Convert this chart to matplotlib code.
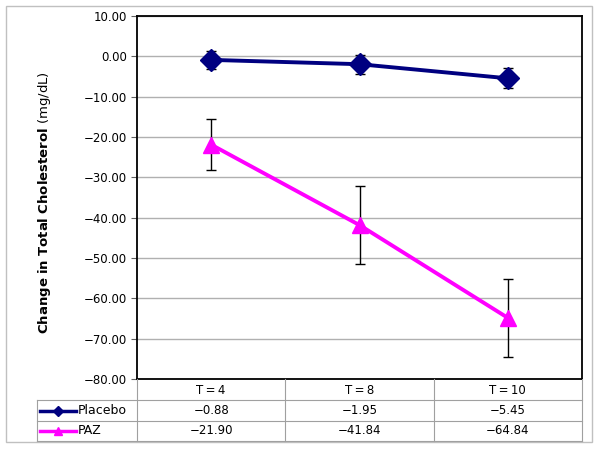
import matplotlib
matplotlib.use("Agg")
import matplotlib.pyplot as plt
from matplotlib.lines import Line2D
from matplotlib.patches import Rectangle

categories = ["T=4", "T=8", "T=10"]
placebo = [-0.88, -1.95, -5.45]
placebo_err = [2.3, 2.35, 2.5]
paz = [-21.90, -41.84, -64.84]
paz_err = [6.3, 9.6, 9.7]
series_names = ["Placebo", "PAZ"]

W, H = 600, 450
plt.rcParams['font.family'] = ['DejaVu Sans']
plt.rcParams['mathtext.fontset'] = 'dejavusans'
fig = plt.figure(figsize=(6, 4.5), dpi=100)

def fx(px):
    return px / W
def fy(py):
    return 1 - py / H

def fmt(v):
    return f"{v:.2f}".replace("-", "\u2212")

ax_l, ax_r, ax_t, ax_b = 137, 582, 16, 379
ax = fig.add_axes([fx(ax_l), fy(ax_b), fx(ax_r - ax_l), (ax_b - ax_t) / H])

x = list(range(len(categories)))
navy = "#000080"
mag = "#FF00FF"

ax.errorbar(x, placebo, yerr=placebo_err, color=navy, lw=2.8, marker="D", ms=11,
            mfc=navy, mec=navy, ecolor="black", elinewidth=1.0, capsize=3.6, capthick=1.0, zorder=3)
ax.errorbar(x, paz, yerr=paz_err, color=mag, lw=2.8, marker="^", ms=11,
            mfc=mag, mec=mag, ecolor="black", elinewidth=1.0, capsize=3.6, capthick=1.0, zorder=3)

ax.set_xlim(-0.5, 2.5)
ax.set_ylim(-80, 10)
yt = list(range(-80, 11, 10))
ax.set_yticks(yt)
ax.set_yticklabels([fmt(v) for v in yt], fontsize=8.5)
ax.set_xticks([])
ax.yaxis.grid(True, color="#b0b0b0", lw=1)
ax.set_axisbelow(True)
ax.tick_params(axis="y", length=4, width=0.8, color="#606060", pad=3)
for s in ax.spines.values():
    s.set_color("black")
    s.set_linewidth(1.3)

fig.text(fx(45), fy(203), r"$\mathbf{Change\ in\ Total\ Cholesterol}$ (mg/dL)",
         rotation=90, ha="center", va="center", fontsize=9.5)

# outer border
fig.add_artist(Rectangle((fx(6), fy(442)), fx(586), (442 - 6) / H, fill=False,
                         edgecolor="#c0c0c0", lw=1, transform=fig.transFigure))

grid_c = "#a0a0a0"
def hline(x0, x1, y):
    fig.add_artist(Line2D([fx(x0), fx(x1)], [fy(y), fy(y)], color=grid_c, lw=0.8))
def vline(xp, y0, y1):
    fig.add_artist(Line2D([fx(xp), fx(xp)], [fy(y0), fy(y1)], color=grid_c, lw=0.8))

tbl_l = 37
row_lines = [400, 421, 441]
for y in row_lines:
    hline(tbl_l, ax_r, y)
col_w = (ax_r - ax_l) / len(categories)
for i in range(len(categories) + 1):
    vline(ax_l + i * col_w, ax_b, 441)
vline(tbl_l, 400, 441)

row_text_y = [390, 411, 431]
for i, c in enumerate(categories):
    cx = ax_l + (i + 0.5) * col_w
    fig.text(fx(cx), fy(row_text_y[0]), c.replace("=", " = ").replace(" ", "\u2009"),
             ha="center", va="center", fontsize=8.5)
    fig.text(fx(cx), fy(row_text_y[1]), fmt(placebo[i]), ha="center", va="center", fontsize=8.5)
    fig.text(fx(cx), fy(row_text_y[2]), fmt(paz[i]), ha="center", va="center", fontsize=8.5)

for name, col, mk, ms, yy in [(series_names[0], navy, "D", 5, row_text_y[1]),
                              (series_names[1], mag, "^", 6, row_text_y[2])]:
    fig.add_artist(Line2D([fx(40), fx(76)], [fy(yy), fy(yy)], color=col, lw=2.5))
    fig.add_artist(Line2D([fx(58)], [fy(yy)], color=col, marker=mk, ms=ms, mfc=col, mec=col))
    fig.text(fx(78), fy(yy), name, ha="left", va="center", fontsize=9)

fig.savefig("out.png", dpi=100)
